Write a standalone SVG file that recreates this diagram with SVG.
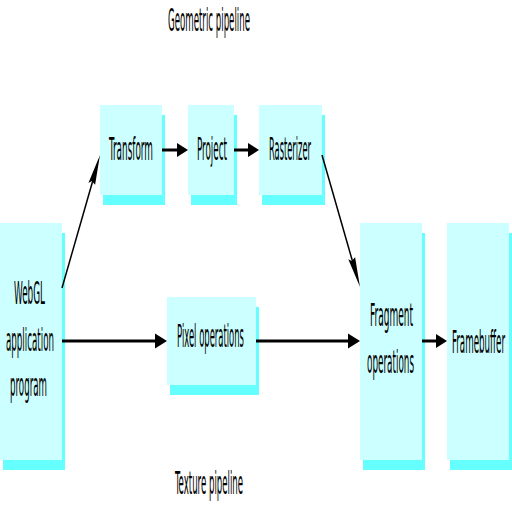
<svg xmlns="http://www.w3.org/2000/svg" width="512" height="512" viewBox="0 0 512 512">
<style>
.front{fill:#ccffff}
.shadow{fill:#66ffff}
text{font-family:"DejaVu Sans Condensed","DejaVu Sans","Liberation Sans",sans-serif;font-stretch:condensed;font-size:32px;fill:#000}
.conn{stroke:#000;fill:none}
.thick{stroke-width:3}
.thin{stroke-width:1.5}
.head{fill:#000}
</style>
<rect width="512" height="512" fill="#fff"/>
<text id="label-geometric" transform="scale(0.34,1)" x="494.1" y="31" textLength="241.2" lengthAdjust="spacingAndGlyphs">Geometric pipeline</text>
<text id="label-texture" transform="scale(0.34,1)" x="514.7" y="494" textLength="200" lengthAdjust="spacingAndGlyphs">Texture pipeline</text>

<g id="webgl">
<rect class="shadow" x="3" y="233" width="62" height="237"/>
<rect class="front" x="0" y="223" width="62" height="237"/>
<text transform="scale(0.34,1)" x="41.2" y="304" textLength="91.2" lengthAdjust="spacingAndGlyphs">WebGL</text>
<text transform="scale(0.34,1)" x="17.6" y="351" textLength="141.2" lengthAdjust="spacingAndGlyphs">application</text>
<text transform="scale(0.34,1)" x="29.4" y="396" textLength="108.8" lengthAdjust="spacingAndGlyphs">program</text>
</g>
<g id="transform">
<rect class="shadow" x="103" y="115" width="62" height="90"/>
<rect class="front" x="100" y="105" width="62" height="90"/>
<text transform="scale(0.34,1)" x="320.6" y="160" textLength="129.4" lengthAdjust="spacingAndGlyphs">Transform</text>
</g>
<g id="project">
<rect class="shadow" x="191" y="115" width="46" height="90"/>
<rect class="front" x="188" y="105" width="46" height="90"/>
<text transform="scale(0.34,1)" x="579.4" y="160" textLength="88.2" lengthAdjust="spacingAndGlyphs">Project</text>
</g>
<g id="rasterizer">
<rect class="shadow" x="262" y="115" width="63" height="90"/>
<rect class="front" x="259" y="105" width="63" height="90"/>
<text transform="scale(0.34,1)" x="791.2" y="160" textLength="123.5" lengthAdjust="spacingAndGlyphs">Rasterizer</text>
</g>
<g id="pixel">
<rect class="shadow" x="170" y="307" width="89" height="88"/>
<rect class="front" x="167" y="297" width="89" height="88"/>
<text transform="scale(0.34,1)" x="520.6" y="347" textLength="197.1" lengthAdjust="spacingAndGlyphs">Pixel operations</text>
</g>
<g id="fragment">
<rect class="shadow" x="363" y="233" width="62" height="237"/>
<rect class="front" x="360" y="223" width="62" height="237"/>
<text transform="scale(0.34,1)" x="1088.2" y="326" textLength="126.5" lengthAdjust="spacingAndGlyphs">Fragment</text>
<text transform="scale(0.34,1)" x="1079.4" y="373" textLength="138.2" lengthAdjust="spacingAndGlyphs">operations</text>
</g>
<g id="framebuffer">
<rect class="shadow" x="450" y="233" width="62" height="237"/>
<rect class="front" x="447" y="223" width="62" height="237"/>
<text transform="scale(0.34,1)" x="1329.4" y="353" textLength="155.9" lengthAdjust="spacingAndGlyphs">Framebuffer</text>
</g>

<g id="connectors">
<line class="conn thick" x1="62" y1="341" x2="156" y2="341"/>
<polygon class="head" points="155,333.5 167,341 155,348.5"/>
<line class="conn thick" x1="256" y1="341" x2="349" y2="341"/>
<polygon class="head" points="348,333.5 360,341 348,348.5"/>
<line class="conn thick" x1="422" y1="341" x2="437" y2="341"/>
<polygon class="head" points="436,334 447,341 436,348"/>
<line class="conn thick" x1="162" y1="150" x2="178" y2="150"/>
<polygon class="head" points="177,143 188,150 177,157"/>
<line class="conn thick" x1="234" y1="150" x2="249" y2="150"/>
<polygon class="head" points="248,143 259,150 248,157"/>
<line class="conn thin" x1="62" y1="288" x2="93" y2="180"/>
<polygon class="head" points="100,155 95.1,184.8 91.8,181 88.4,182.9"/>
<line class="conn thin" x1="322" y1="155" x2="353" y2="263"/>
<polygon class="head" points="360,287 355.1,257.2 351.7,261 348.3,259.2"/>
</g>
</svg>
